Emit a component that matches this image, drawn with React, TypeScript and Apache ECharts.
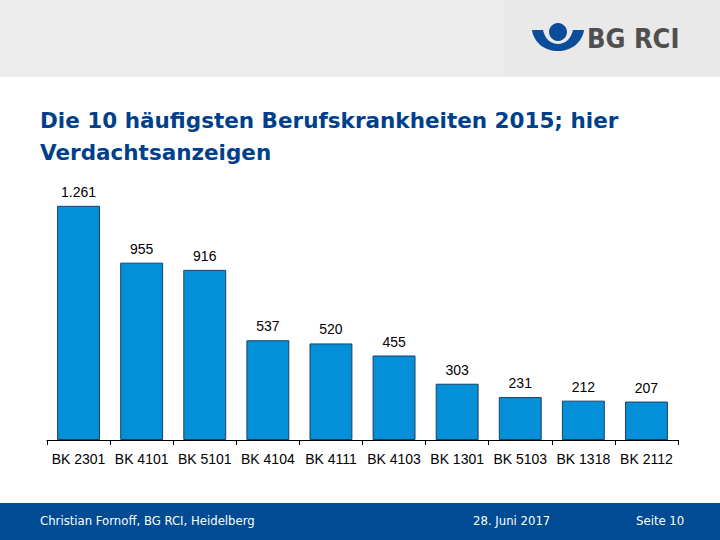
import React, { useEffect, useRef } from "react";
import * as echarts from "echarts";

const categories = ["BK 2301", "BK 4101", "BK 5101", "BK 4104", "BK 4111", "BK 4103", "BK 1301", "BK 5103", "BK 1318", "BK 2112"];
const values = [1261, 955, 916, 537, 520, 455, 303, 231, 212, 207];
const titleLines = ["Die 10 häufigsten Berufskrankheiten 2015; hier", "Verdachtsanzeigen"];
const footerLeft = "Christian Fornoff, BG RCI, Heidelberg";
const footerDate = "28. Juni 2017";
const footerPage = "Seite 10";

const fmt = (v: number) => String(v).replace(/\B(?=(\d{3})+(?!\d))/g, ".");

const logoD = "M532 30 L543 30 C545 39 551 44 558 44 C565 44 571 39 573 30 L584 30 C582 43 571 51 558 51 C545 51 534 43 532 30 Z";
let registered = false;

export default function App() {
  const ref = useRef<HTMLDivElement>(null);
  useEffect(() => {
    document.body.style.margin = "0";
    if (!registered) {
      echarts.graphic.registerShape("logo", echarts.graphic.extendPath(logoD, {}));
      registered = true;
    }
    const chart = echarts.init(ref.current!, null, { renderer: "svg" });
    const sans = "'Liberation Sans', Arial, sans-serif";
    const cond = "'DejaVu Sans Condensed', 'Liberation Sans Narrow', sans-serif";
    chart.setOption({
      animation: false,
      backgroundColor: "#ffffff",
      grid: { left: 47, right: 42, top: 180, bottom: 100 },
      xAxis: {
        type: "category",
        data: categories,
        axisLine: { lineStyle: { color: "#000", width: 1 } },
        axisTick: { show: true, length: 5, interval: 0, lineStyle: { color: "#000" } },
        axisLabel: { color: "#000", fontSize: 14, fontFamily: sans, margin: 12, interval: 0 },
      },
      yAxis: { type: "value", min: 0, max: 1400, show: false, splitLine: { show: false } },
      series: [
        {
          type: "bar",
          data: values,
          barCategoryGap: "32%",
          itemStyle: { color: "#0490d8", borderColor: "#1b3f66", borderWidth: 1 },
          label: {
            show: true,
            position: "top",
            distance: 7,
            color: "#000",
            fontSize: 14,
            fontFamily: sans,
            formatter: (p: any) => fmt(p.value),
          },
        },
      ],
      graphic: [
        { type: "rect", shape: { x: 0, y: 0, width: 720, height: 77 }, style: { fill: "#e9e9e9" }, z: -1 },
        { type: "rect", shape: { x: 0, y: 0, width: 505, height: 77 }, style: { fill: "#ececec" }, z: -1 },
        { type: "logo", x: 0, y: 0, style: { fill: "#0b4c9b" } },
        { type: "circle", shape: { cx: 558, cy: 32, r: 9 }, style: { fill: "#0b4c9b" } },
        {
          type: "text",
          left: 587,
          top: 25,
          style: { text: "BG RCI", fill: "#4f4f4f", font: "bold 27px " + cond },
        },
        {
          type: "text",
          left: 40,
          top: 104,
          style: {
            text: titleLines.join("\n"),
            fill: "#003f8c",
            font: "bold 21.5px 'DejaVu Sans', sans-serif",
            lineHeight: 32,
          },
        },
        { type: "rect", shape: { x: 0, y: 503, width: 720, height: 37 }, style: { fill: "#004b93" } },
        { type: "text", left: 40, top: 514, style: { text: footerLeft, fill: "#fff", font: "13px " + cond } },
        { type: "text", left: 473, top: 514, style: { text: footerDate, fill: "#fff", font: "13px " + cond } },
        { type: "text", left: 636, top: 514, style: { text: footerPage, fill: "#fff", font: "13px " + cond } },
      ],
    });
    return () => chart.dispose();
  }, []);
  return <div ref={ref} style={{ position: "absolute", left: 0, top: 0, width: 720, height: 540 }} />;
}
